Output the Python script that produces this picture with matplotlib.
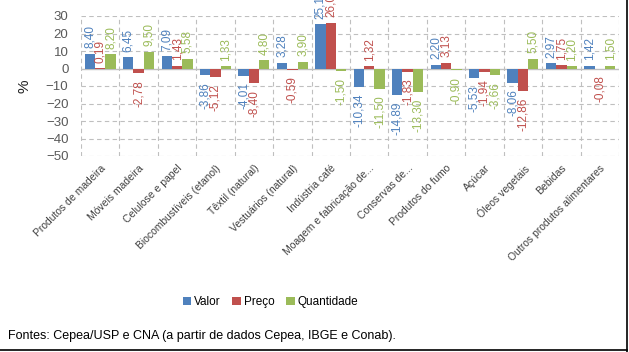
import numpy as np
import matplotlib
matplotlib.use('Agg')
import matplotlib.pyplot as plt
from matplotlib.lines import Line2D

plt.rcParams['font.family'] = ['Liberation Sans', 'DejaVu Sans']

# Dados do grafico (variacao %)
categorias = ['Produtos de madeira', 'Móveis madeira', 'Celulose e papel',
              'Biocombustíveis (etanol)', 'Têxtil (natural)', 'Vestuários (natural)',
              'Indústria café', 'Moagem e fabricação de...', 'Conservas de...',
              'Produtos do fumo', 'Açúcar', 'Óleos vegetais', 'Bebidas',
              'Outros produtos alimentares']
valor = [8.40, 6.45, 7.09, -3.86, -4.01, 3.28, 25.17, -10.34, -14.89, 2.20, -5.53, -8.06, 2.97, 1.42]
preco = [0.19, -2.78, 1.43, -5.12, -8.40, -0.59, 26.06, 1.32, -1.83, 3.13, -1.94, -12.86, 1.75, -0.08]
quantidade = [8.20, 9.50, 5.58, 1.33, 4.80, 3.90, -1.50, -11.50, -13.30, -0.90, -3.66, 5.50, 1.20, 1.50]
series = ['Valor', 'Preço', 'Quantidade']
cores = ['#4F81BD', '#C0504D', '#9BBB59']
yticks = [30, 20, 10, 0, -10, -20, -30, -40, -50]

fig = plt.figure(figsize=(6.29, 3.52), dpi=100)
ax = fig.add_axes([81/629, 1 - 156/352, (619 - 81)/629, (156 - 16)/352])

x = np.arange(len(categorias))
largura = 0.27
for k, (dados, cor, nome) in enumerate(zip([valor, preco, quantidade], cores, series)):
    pos = x + (k - 1) * largura
    ax.bar(pos, dados, width=largura, color=cor, label=nome, zorder=3)
    for xi, v in zip(pos, dados):
        txt = f'{v:.2f}'.replace('.', ',')
        if v >= 0:
            ax.annotate(txt, (xi, v), xytext=(0, 4), textcoords='offset points',
                        rotation=90, ha='center', va='bottom', color=cor,
                        fontsize=8.5, annotation_clip=False, zorder=4)
        else:
            ax.annotate(txt, (xi, v), xytext=(0, -5), textcoords='offset points',
                        rotation=90, ha='center', va='top', color=cor,
                        fontsize=8.5, annotation_clip=False, zorder=4)

ax.set_xlim(-0.5, len(categorias) - 0.5)
ax.set_ylim(-50, 30)
ax.set_yticks(yticks)
ax.tick_params(axis='y', length=0, labelsize=9.5, labelcolor='#595959', pad=9)
ax.set_xticks(x)
ax.set_xticklabels(categorias, rotation=45, ha='right', rotation_mode='anchor',
                   fontsize=7.5, color='#404040')
ax.tick_params(axis='x', length=0, pad=5)
ax.set_ylabel('%', fontsize=11, color='#202020', labelpad=10)

# grade tracejada
for yv in yticks:
    if yv != 0:
        ax.axhline(yv, color='#BFBFBF', linestyle=(0, (4, 3)), linewidth=0.8, zorder=1)
for xv in np.arange(-0.5, len(categorias), 1.0):
    ax.axvline(xv, color='#BFBFBF', linestyle=(0, (4, 3)), linewidth=0.8, zorder=1)
ax.axhline(0, color='#BFBFBF', linewidth=1.0, zorder=2)
for s in ax.spines.values():
    s.set_visible(False)

fig.legend(loc='center', bbox_to_anchor=(0.43, 1 - 302/352), ncol=3, frameon=False,
           fontsize=8.5, handlelength=0.7, handleheight=0.7, handletextpad=0.25,
           columnspacing=1.0)

fig.text(8/629, 1 - 336/352, 'Fontes: Cepea/USP e CNA (a partir de dados Cepea, IBGE e Conab).',
         fontsize=9, ha='left', va='center', color='black')

# moldura (direita e base)
fig.add_artist(Line2D([627/629, 627/629], [0, 1], transform=fig.transFigure, color='black', linewidth=1.2))
fig.add_artist(Line2D([0, 627/629], [2/352, 2/352], transform=fig.transFigure, color='black', linewidth=1.2))

fig.savefig('out.png', dpi=100)
